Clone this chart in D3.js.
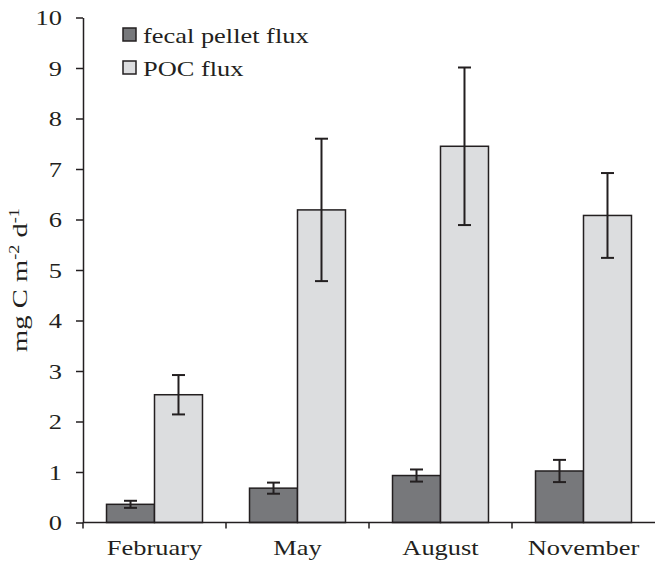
<!DOCTYPE html>
<html>
<head>
<meta charset="utf-8">
<script src="https://cdn.jsdelivr.net/npm/d3@7"></script>
<style>
  html, body { margin: 0; padding: 0; background: #fff; }
  svg { display: block; }
  text { font-family: "Liberation Serif", "Times New Roman", serif; fill: #231f20; }
</style>
</head>
<body>
<svg id="chart" width="655" height="567"></svg>
<script>
// Sampling months
const months = ["February", "May", "August", "November"];
// Series names
const seriesNames = ["fecal pellet flux", "POC flux"];
// Mean flux (mg C m-2 d-1)
const fecalFlux = [0.36, 0.68, 0.93, 1.02];
const pocFlux = [2.53, 6.19, 7.45, 6.08];
// Error half-widths
const fecalErr = [0.07, 0.11, 0.12, 0.22];
const pocErr = [0.39, 1.41, 1.56, 0.84];
// Y tick values
const yTicks = [0, 1, 2, 3, 4, 5, 6, 7, 8, 9, 10];

const colors = ["#77787b", "#dcdddf"];
const ink = "#231f20";
const fontSize = 22;
const widen = 1.2; // wide serif lettering

// Stretch glyphs horizontally along the text direction
function stretch(sel) {
  sel.each(function () {
    const len = this.getComputedTextLength();
    d3.select(this).attr("textLength", len * widen).attr("lengthAdjust", "spacingAndGlyphs");
  });
}

const svg = d3.select("#chart");
const margin = { left: 83, right: 0, top: 17.5, bottom: 44.5 };
const W = 655, H = 567;

const x = d3.scaleBand().domain(months).range([margin.left, W - margin.right]).paddingInner(0).paddingOuter(0);
const xs = d3.scaleBand().domain(seriesNames).range([0, x.bandwidth()]).paddingInner(0).paddingOuter(0.49);
const y = d3.scaleLinear().domain([0, 10]).range([H - margin.bottom, margin.top]);

const rows = months.map((m, i) => ({
  month: m,
  series: [
    { name: seriesNames[0], value: fecalFlux[i], err: fecalErr[i], color: colors[0] },
    { name: seriesNames[1], value: pocFlux[i], err: pocErr[i], color: colors[1] }
  ]
}));

// Bars
const groups = svg.append("g").selectAll("g").data(rows).join("g")
  .attr("transform", d => `translate(${x(d.month)},0)`);

groups.selectAll("rect").data(d => d.series).join("rect")
  .attr("x", d => xs(d.name))
  .attr("y", d => y(d.value))
  .attr("width", xs.bandwidth())
  .attr("height", d => y(0) - y(d.value))
  .attr("fill", d => d.color)
  .attr("stroke", ink)
  .attr("stroke-width", 1.5);

// Error bars
const eb = groups.selectAll("g.err").data(d => d.series).join("g").attr("class", "err")
  .attr("stroke", ink).attr("stroke-width", 2);
const cx = d => xs(d.name) + xs.bandwidth() / 2;
eb.append("line").attr("x1", cx).attr("x2", cx)
  .attr("y1", d => y(d.value + d.err)).attr("y2", d => y(d.value - d.err));
eb.append("line").attr("x1", d => cx(d) - 6.5).attr("x2", d => cx(d) + 6.5)
  .attr("y1", d => y(d.value + d.err)).attr("y2", d => y(d.value + d.err));
eb.append("line").attr("x1", d => cx(d) - 6.5).attr("x2", d => cx(d) + 6.5)
  .attr("y1", d => y(d.value - d.err)).attr("y2", d => y(d.value - d.err));

// Y axis
const yAxis = svg.append("g")
  .attr("transform", `translate(${margin.left},0)`)
  .call(d3.axisLeft(y).tickValues(yTicks).tickSize(7).tickPadding(14).tickSizeOuter(0));
yAxis.select(".domain").attr("stroke", ink).attr("stroke-width", 1.5);
yAxis.selectAll(".tick line").attr("stroke", ink).attr("stroke-width", 1.5);
yAxis.selectAll(".tick text").attr("font-size", fontSize).attr("font-family", "Liberation Serif").attr("fill", ink)
  .call(stretch);

// X axis: ticks at category boundaries
const xAxisG = svg.append("g").attr("transform", `translate(0,${y(0)})`);
xAxisG.append("line").attr("x1", margin.left).attr("x2", W).attr("y1", 0).attr("y2", 0)
  .attr("stroke", ink).attr("stroke-width", 1.5);
xAxisG.selectAll("line.bt").data(months).join("line").attr("class", "bt")
  .attr("x1", d => x(d)).attr("x2", d => x(d)).attr("y1", 0).attr("y2", 6)
  .attr("stroke", ink).attr("stroke-width", 1.5);
xAxisG.selectAll("text").data(months).join("text")
  .attr("x", d => x(d) + x.bandwidth() / 2)
  .attr("y", 32)
  .attr("text-anchor", "middle")
  .attr("font-size", fontSize)
  .text(d => d)
  .call(stretch);

// Y axis title
const yt = svg.append("text")
  .attr("transform", `translate(27,280) rotate(-90) scale(1.3,1)`)
  .attr("text-anchor", "middle")
  .attr("font-size", fontSize);
yt.append("tspan").text("mg  C m");
yt.append("tspan").attr("font-size", 14).attr("dy", -8).text("-2");
yt.append("tspan").attr("dy", 8).text(" d");
yt.append("tspan").attr("font-size", 14).attr("dy", -8).text("-1");

// Legend
const legend = svg.append("g").attr("transform", "translate(123,28)");
const li = legend.selectAll("g").data(seriesNames).join("g")
  .attr("transform", (d, i) => `translate(0,${i * 33})`);
li.append("rect").attr("width", 13).attr("height", 13)
  .attr("fill", (d, i) => colors[i]).attr("stroke", ink).attr("stroke-width", 1.5);
li.append("text").attr("x", 20).attr("y", 15).attr("font-size", fontSize).text(d => d)
  .call(stretch);
</script>
</body>
</html>
